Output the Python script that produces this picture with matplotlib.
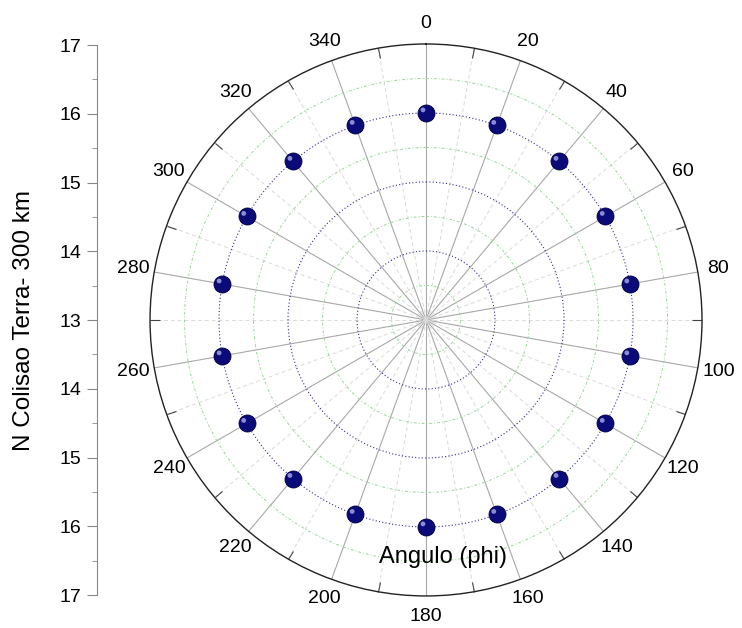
import numpy as np
import matplotlib.pyplot as plt
from matplotlib.ticker import FixedLocator, FuncFormatter
from matplotlib.transforms import ScaledTranslation

plt.rcParams['font.family'] = ['Liberation Sans', 'DejaVu Sans']

# data
phi_deg = [0, 20, 40, 60, 80, 100, 120, 140, 160, 180, 200, 220, 240, 260, 280, 300, 320, 340]
n_colisao = [16, 16, 16, 16, 16, 16, 16, 16, 16, 16, 16, 16, 16, 16, 16, 16, 16, 16]
theta_labels = ['0', '20', '40', '60', '80', '100', '120', '140', '160', '180',
                '200', '220', '240', '260', '280', '300', '320', '340']
r_min, r_max = 13, 17
left_ticks = [-4, -3, -2, -1, 0, 1, 2, 3, 4]

fig = plt.figure(figsize=(7.42, 6.28), dpi=100)

# polar part
ax = fig.add_axes([0.2022, 0.051, 0.7439, 0.879], projection='polar')
ax.set_theta_zero_location('N')
ax.set_theta_direction(-1)
ax.set_ylim(r_min, r_max)

ax.set_thetagrids(phi_deg, theta_labels, fontsize=14)
ax.xaxis.set_minor_locator(FixedLocator(np.deg2rad(np.arange(10, 360, 20))))
ax.tick_params(axis='x', which='major', pad=8, length=0)
ax.tick_params(axis='x', which='minor', direction='in', length=7, width=0.8, color='#444444',
               tick1On=False, tick2On=True)
ax.xaxis.grid(True, which='major', color='#a8a8a8', linestyle='-', linewidth=0.8)
ax.xaxis.grid(True, which='minor', color='#dadada', linestyle=(0, (4, 3)), linewidth=0.7)

ax.set_yticks([14, 15, 16])
ax.yaxis.set_minor_locator(FixedLocator([13.5, 14.5, 15.5, 16.5]))
ax.set_yticklabels([])
ax.yaxis.grid(True, which='major', color='#30309a', linestyle=(0, (1, 2)), linewidth=0.8)
ax.yaxis.grid(True, which='minor', color='#9ad69a', linestyle=(0, (3, 2, 1, 2)), linewidth=0.7)
ax.tick_params(axis='y', which='both', length=0)
ax.spines['polar'].set_color('#222222')
ax.spines['polar'].set_linewidth(1.0)

th = np.deg2rad(phi_deg)
ax.scatter(th, n_colisao, s=150, color='#0a0a78', edgecolor='#000040', linewidth=0.6, zorder=5, clip_on=False)
hl = ax.transData + ScaledTranslation(-2.2 / 72, 2.2 / 72, fig.dpi_scale_trans)
ax.scatter(th, n_colisao, s=12, color='#8c8cd6', edgecolor='none', zorder=6, transform=hl, clip_on=False)

ax.text(0.53, 0.071, 'Angulo (phi)', transform=ax.transAxes, ha='center', va='center', fontsize=17)

# left radial scale
lax = fig.add_axes([0.1307, 0.0525, 0.01, 0.8758])
lax.set_ylim(-4, 4)
lax.set_xlim(0, 1)
for s in ['top', 'bottom', 'right']:
    lax.spines[s].set_visible(False)
lax.spines['left'].set_color('#888888')
lax.set_xticks([])
lax.yaxis.set_major_locator(FixedLocator(left_ticks))
lax.yaxis.set_minor_locator(FixedLocator(np.arange(-3.5, 4, 1.0)))
lax.yaxis.set_major_formatter(FuncFormatter(lambda v, p: '%d' % (r_min + abs(round(v)))))
lax.tick_params(axis='y', which='major', length=7, color='#888888', labelsize=14, pad=4)
lax.tick_params(axis='y', which='minor', length=3.5, color='#888888')
lax.set_ylabel('N Colisao Terra- 300 km', fontsize=17.5, labelpad=18)
lax.patch.set_visible(False)

fig.savefig('out.png', dpi=100)
